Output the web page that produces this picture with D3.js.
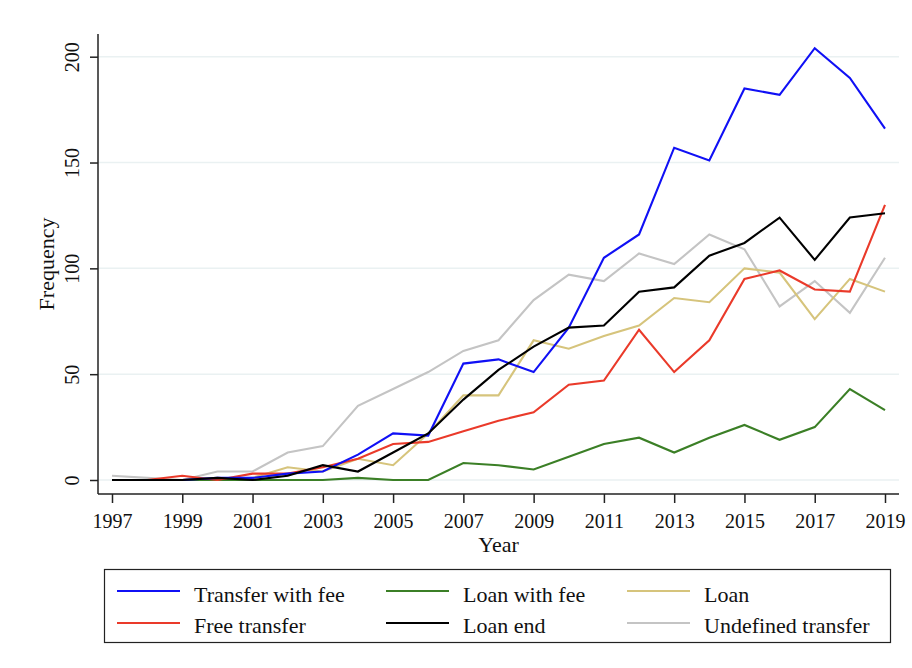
<!DOCTYPE html>
<html><head><meta charset="utf-8">
<script src="https://cdn.jsdelivr.net/npm/d3@7"></script>
<style>body{margin:0;background:#fff;} svg{display:block;}</style>
</head><body>
<script>
const years = d3.range(1997, 2020);
const transferWithFee = [0,0,0,1,1,3,4,12,22,21,55,57,51,72,105,116,157,151,185,182,204,190,166];
const loanWithFee     = [0,0,0,0,0,0,0,1,0,0,8,7,5,11,17,20,13,20,26,19,25,43,33];
const loan            = [0,0,0,0,1,6,4,10,7,22,40,40,66,62,68,73,86,84,100,98,76,95,89];
const freeTransfer    = [0,0,2,0,3,3,6,10,17,18,23,28,32,45,47,71,51,66,95,99,90,89,130];
const loanEnd         = [0,0,0,1,0,2,7,4,13,22,38,52,63,72,73,89,91,106,112,124,104,124,126];
const undefinedTransfer=[2,1,0,4,4,13,16,35,43,51,61,66,85,97,94,107,102,116,109,82,94,79,105];
const yTicks = [0,50,100,150,200];
const xTicks = d3.range(1997, 2020, 2);

const seriesNames = ["Transfer with fee","Loan with fee","Loan","Free transfer","Loan end","Undefined transfer"];
const seriesValues = [transferWithFee, loanWithFee, loan, freeTransfer, loanEnd, undefinedTransfer];
const seriesColors = ["#1010f5","#3b7f26","#d6c47c","#ea3a2a","#000000","#c4c4c4"];
const drawOrder = [5,2,1,3,0,4];

const W = 912, H = 668;
const svg = d3.select("body").append("svg").attr("width", W).attr("height", H);
const font = "'Liberation Serif','Times New Roman',serif";

const x = d3.scaleLinear().domain([1997, 2019]).range([112, 885]);
const y = d3.scaleLinear().domain([0, 200]).range([480, 56.7]);

const axL = 98, axR = 899, axT = 34, axB = 494;

svg.append("g").selectAll("line").data(yTicks).join("line")
  .attr("x1", axL).attr("x2", axR).attr("y1", d => y(d)).attr("y2", d => y(d))
  .attr("stroke", "#eaf1f2").attr("stroke-width", 1.5);

const line = d3.line().x((d, i) => x(years[i])).y(d => y(d));
drawOrder.forEach(k => {
  svg.append("path").datum(seriesValues[k]).attr("d", line)
    .attr("fill", "none").attr("stroke", seriesColors[k]).attr("stroke-width", 2.1)
    .attr("stroke-linejoin", "miter");
});

const yAxis = d3.axisLeft(y).tickValues(yTicks).tickSize(8).tickPadding(0).tickFormat(d3.format("d"));
const gy = svg.append("g").attr("transform", `translate(${axL},0)`).call(yAxis);
gy.select(".domain").remove();
gy.append("line").attr("x1", 0).attr("x2", 0).attr("y1", axT).attr("y2", axB).attr("stroke", "#222").attr("stroke-width", 1.5);
gy.selectAll(".tick line").attr("stroke", "#222").attr("stroke-width", 1.5);
gy.selectAll(".tick text").attr("font-family", font).attr("font-size", 20).attr("fill", "#111")
  .attr("text-anchor", "middle").attr("dy", null)
  .attr("transform", `translate(-26,0) rotate(-90)`).attr("x", 0).attr("y", 0).attr("dominant-baseline", "central");

const xAxis = d3.axisBottom(x).tickValues(xTicks).tickSize(9).tickPadding(4).tickFormat(d3.format("d"));
const gx = svg.append("g").attr("transform", `translate(0,${axB})`).call(xAxis);
gx.select(".domain").remove();
gx.append("line").attr("x1", axL).attr("x2", axR).attr("y1", 0).attr("y2", 0).attr("stroke", "#222").attr("stroke-width", 1.5);
gx.selectAll(".tick line").attr("stroke", "#222").attr("stroke-width", 1.5);
gx.selectAll(".tick text").attr("font-family", font).attr("font-size", 20).attr("fill", "#111")
  .attr("dy", null).attr("y", 34);

svg.append("text").attr("x", (axL + axR) / 2).attr("y", 552).attr("text-anchor", "middle")
  .attr("font-family", font).attr("font-size", 22).attr("fill", "#111").text("Year");
svg.append("text").attr("transform", `translate(54,${(axT + axB) / 2}) rotate(-90)`).attr("text-anchor", "middle")
  .attr("font-family", font).attr("font-size", 22).attr("fill", "#111").text("Frequency");

const lg = svg.append("g");
lg.append("rect").attr("x", 104.5).attr("y", 569.5).attr("width", 786).attr("height", 73)
  .attr("fill", "#fff").attr("stroke", "#222").attr("stroke-width", 1.2);
const legendLayout = [ [0,0],[1,0],[2,0],[0,1],[1,1],[2,1] ];
const colX = [117, 386, 627], rowLineY = [591, 623], rowTextY = [602, 633];
seriesNames.forEach((name, k) => {
  const [c, r] = legendLayout[k];
  lg.append("line").attr("x1", colX[c]).attr("x2", colX[c] + 63).attr("y1", rowLineY[r]).attr("y2", rowLineY[r])
    .attr("stroke", seriesColors[k]).attr("stroke-width", 2.1);
  lg.append("text").attr("x", colX[c] + 77).attr("y", rowTextY[r])
    .attr("font-family", font).attr("font-size", 22).attr("fill", "#111").text(name);
});
</script>
</body></html>
